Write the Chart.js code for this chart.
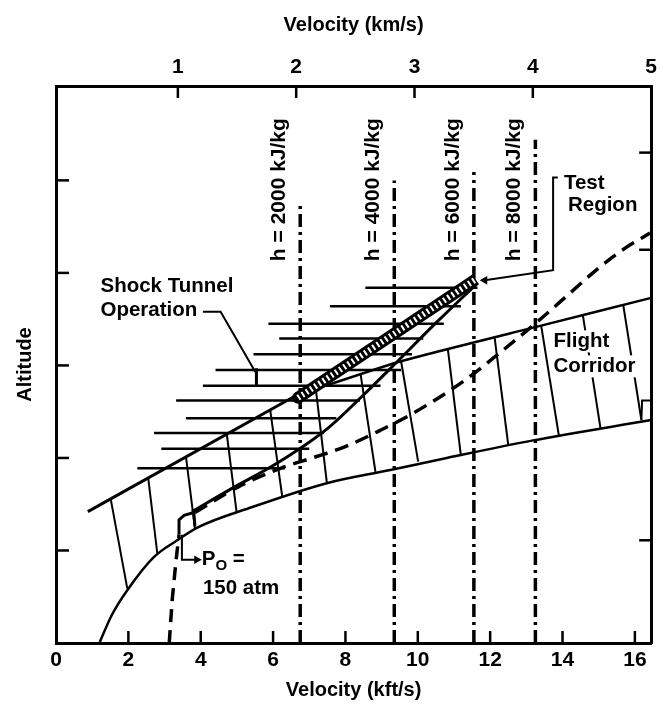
<!DOCTYPE html>
<html lang="en">
<head>
    <meta charset="UTF-8">
    <title>Flight corridor and shock tunnel operation</title>
    <script src="https://cdn.jsdelivr.net/npm/chart.js"></script>
    <style>
        html, body { margin: 0; padding: 0; background: #fff; }
        #wrap { width: 663px; height: 713px; }
    </style>
</head>
<body>
    <div id="wrap"><canvas id="chart" width="663" height="713"></canvas></div>

    <script>
        // axes (velocity in kft/s along the bottom, km/s along the top, altitude unlabeled)
        const kftTicks = [0, 2, 4, 6, 8, 10, 12, 14, 16];
        const kmTicks = [1, 2, 3, 4, 5];
        const altTicks = [1, 2, 3, 4, 5];
        const altTicksRight = [1.11, 4.25, 5.30];

        // flight corridor, lower and upper boundaries
        const corridorLowX = [1.21, 1.54, 1.97, 2.71, 3.35, 3.92, 5.43, 7.51, 9.24, 10.80, 13.19, 16.45];
        const corridorLowY = [0.01, 0.30, 0.57, 0.93, 1.11, 1.25, 1.47, 1.73, 1.87, 2.00, 2.19, 2.41];
        const corridorTopX = [6.61, 9.49, 13.41, 16.45];
        const corridorTopY = [2.67, 3.04, 3.43, 3.73];

        // corridor hatch strokes (top end, bottom end)
        const corrHatchTopX = [1.51, 2.55, 3.59, 4.72, 5.92, 7.18, 8.42, 9.54, 10.83, 12.12, 13.41, 14.56, 15.68];
        const corrHatchTopY = [1.56, 1.78, 2.02, 2.26, 2.52, 2.75, 2.90, 3.04, 3.18, 3.31, 3.43, 3.55, 3.65];
        const corrHatchBotX = [1.97, 2.80, 3.84, 4.99, 6.25, 7.49, 8.83, 10.01, 11.19, 12.50, 13.90, 15.05, 16.18];
        const corrHatchBotY = [0.59, 0.97, 1.24, 1.42, 1.59, 1.72, 1.85, 1.96, 2.03, 2.14, 2.24, 2.32, 2.41];

        // shock tunnel operation: left edge, right edge and horizontal hatching
        const tunnelLeftX = [0.88, 6.61, 11.57];
        const tunnelLeftY = [1.42, 2.67, 3.89];
        const tunnelRightX = [3.76, 4.77, 6.14, 7.51, 8.47, 9.43, 10.53, 11.65];
        const tunnelRightY = [1.42, 1.65, 1.95, 2.32, 2.67, 3.04, 3.47, 3.89];
        const tunnelHatchY = [3.84, 3.64, 3.45, 3.29, 3.12, 2.95, 2.78, 2.62, 2.43, 2.27, 2.10, 1.89];
        const tunnelHatchLeft = [8.55, 7.57, 5.87, 6.17, 5.46, 4.41, 4.06, 3.32, 3.59, 2.71, 2.91, 2.25];
        const tunnelHatchRight = [11.65, 11.19, 10.72, 10.15, 9.84, 9.54, 8.97, 8.40, 7.75, 7.40, 7.00, 6.33];

        // P0 = 150 atm dashed curve
        const p0LowX = [3.13, 3.21, 3.32, 3.40];
        const p0LowY = [0.00, 0.46, 0.90, 1.17];
        const p0BoxX = [3.40, 3.40, 3.54, 3.81, 3.84];
        const p0BoxY = [1.17, 1.33, 1.38, 1.41, 1.26];
        const p0HighX = [3.84, 5.05, 6.22, 7.16, 7.98, 8.97, 9.90, 11.30, 12.31, 13.30, 14.23, 15.05, 15.74, 16.42];
        const p0HighY = [1.41, 1.69, 1.89, 2.01, 2.12, 2.30, 2.49, 2.84, 3.15, 3.47, 3.79, 4.07, 4.27, 4.43];

        // test region bar
        const testBarX = [6.69, 11.60];
        const testBarY = [2.65, 3.93];

        // constant enthalpy lines
        const enthalpyX = [6.75, 9.35, 11.55, 13.25];
        const enthalpyTop = [4.74, 5.00, 5.09, 5.44];
        const enthalpyLabels = ['h = 2000 kJ/kg', 'h = 4000 kJ/kg', 'h = 6000 kJ/kg', 'h = 8000 kJ/kg'];

        // leader lines
        const testLeaderX = [13.87, 13.74, 13.74, 11.85];
        const testLeaderY = [5.03, 5.03, 4.03, 3.92];
        const shockLeaderX = [4.06, 4.55, 5.51];
        const shockLeaderY = [3.58, 3.58, 2.93];
        const shockTickX = [5.54, 5.54];
        const shockTickY = [2.97, 2.78];
        const p0LeaderX = [3.48, 3.48, 3.89];
        const p0LeaderY = [1.17, 0.90, 0.90];
        const edgeBoxX = [16.45, 16.20, 16.18];
        const edgeBoxY = [2.62, 2.62, 2.41];

        const FONT = 'Liberation Sans, Arial, sans-serif';
        Chart.defaults.font.family = FONT;
        Chart.defaults.font.size = 20;
        Chart.defaults.font.weight = 'bold';
        Chart.defaults.color = '#000';

        const pts = (xs, ys) => xs.map((x, i) => ({ x: x, y: ys[i] }));

        function line(data, opts) {
            return Object.assign({
                data: data,
                showLine: true,
                borderColor: '#000',
                backgroundColor: '#000',
                borderWidth: 2.5,
                pointRadius: 0,
                fill: false,
                tension: 0,
                order: 5
            }, opts || {});
        }

        const datasets = [];

        // corridor
        datasets.push(line(pts(corridorLowX, corridorLowY), { cubicInterpolationMode: 'monotone' }));
        datasets.push(line(pts(corridorTopX, corridorTopY), { tension: 0.2 }));
        corrHatchTopX.forEach((x, i) => {
            datasets.push(line(pts([x, corrHatchBotX[i]], [corrHatchTopY[i], corrHatchBotY[i]]), { borderWidth: 2 }));
        });
        datasets.push(line(pts(edgeBoxX, edgeBoxY), { borderWidth: 2 }));

        // shock tunnel
        datasets.push(line(pts(tunnelLeftX, tunnelLeftY), { borderWidth: 3 }));
        datasets.push(line(pts(tunnelRightX, tunnelRightY), { borderWidth: 3, cubicInterpolationMode: 'monotone' }));
        tunnelHatchY.forEach((y, i) => {
            datasets.push(line(pts([tunnelHatchLeft[i], tunnelHatchRight[i]], [y, y]), { borderWidth: 2.5 }));
        });

        // P0 = 150 atm
        datasets.push(line(pts(p0LowX, p0LowY), { borderWidth: 3.5, borderDash: [13, 8] }));
        datasets.push(line(pts(p0BoxX, p0BoxY), { borderWidth: 3 }));
        datasets.push(line(pts(p0HighX, p0HighY), { borderWidth: 3.5, borderDash: [14, 8], cubicInterpolationMode: 'monotone' }));

        // enthalpy lines
        enthalpyX.forEach((x, i) => {
            datasets.push(line(pts([x, x], [0, enthalpyTop[i]]), { borderWidth: 3.5, borderDash: [13, 5, 3, 5] }));
        });

        // test region bar (black body with white rungs)
        datasets.push(line(pts(testBarX, testBarY), { borderWidth: 12, order: 2,
            pointRadius: ctx => ctx.dataIndex === 0 ? 6 : 0, pointBorderWidth: 0 }));
        datasets.push(line(pts(testBarX, testBarY), { borderWidth: 6, borderColor: '#fff', borderDash: [2, 3], order: 1 }));

        // leaders
        const arrowEnd = rot => ({
            pointStyle: 'triangle',
            rotation: rot,
            pointBorderWidth: 0,
            pointRadius: ctx => ctx.dataIndex === ctx.dataset.data.length - 1 ? 5 : 0
        });
        datasets.push(line(pts(testLeaderX, testLeaderY), Object.assign({ borderWidth: 2 }, arrowEnd(-90))));
        datasets.push(line(pts(shockLeaderX, shockLeaderY), { borderWidth: 2 }));
        datasets.push(line(pts(shockTickX, shockTickY), { borderWidth: 3 }));
        datasets.push(line(pts(p0LeaderX, p0LeaderY), Object.assign({ borderWidth: 2 }, arrowEnd(90))));

        // text placed in data units
        const notes = [
            { text: 'Shock Tunnel', x: 1.23, y: 3.85 },
            { text: 'Operation', x: 1.23, y: 3.60 },
            { text: 'Test', x: 14.04, y: 4.97 },
            { text: 'Region', x: 14.15, y: 4.73 },
            { text: 'Flight', x: 13.75, y: 3.26, bg: true },
            { text: 'Corridor', x: 13.75, y: 2.99, bg: true },
            { text: '150 atm', x: 4.06, y: 0.59 }
        ];

        const inwardTicks = {
            id: 'inwardTicks',
            afterDraw(chart) {
                const ctx = chart.ctx;
                const a = chart.chartArea;
                const len = 12;
                ctx.save();
                ctx.strokeStyle = '#000';
                ctx.lineWidth = 2.5;
                const seg = (x1, y1, x2, y2) => { ctx.beginPath(); ctx.moveTo(x1, y1); ctx.lineTo(x2, y2); ctx.stroke(); };
                const sx = chart.scales.x, sx2 = chart.scales.x2, sy = chart.scales.y, sy2 = chart.scales.y2;
                sx.ticks.forEach(t => {
                    const p = sx.getPixelForValue(t.value);
                    if (p > a.left + 3 && p < a.right - 3) seg(p, a.bottom, p, a.bottom - len);
                });
                sx2.ticks.forEach(t => {
                    const p = sx2.getPixelForValue(t.value);
                    if (p > a.left + 3 && p < a.right - 3) seg(p, a.top, p, a.top + len);
                });
                sy.ticks.forEach(t => {
                    const p = sy.getPixelForValue(t.value);
                    seg(a.left, p, a.left + len + 1, p);
                });
                sy2.ticks.forEach(t => {
                    const p = sy2.getPixelForValue(t.value);
                    seg(a.right, p, a.right - len, p);
                });
                ctx.restore();
            }
        };

        const notesPlugin = {
            id: 'notes',
            afterDatasetsDraw(chart) {
                const ctx = chart.ctx;
                const sx = chart.scales.x, sy = chart.scales.y;
                const noteFont = 'bold 20.5px ' + FONT;
                ctx.save();
                ctx.fillStyle = '#000';
                ctx.font = noteFont;
                ctx.textBaseline = 'middle';
                ctx.textAlign = 'left';
                notes.forEach(n => {
                    const px = sx.getPixelForValue(n.x);
                    const py = sy.getPixelForValue(n.y);
                    if (n.bg) {
                        const w = ctx.measureText(n.text).width;
                        ctx.fillStyle = '#fff';
                        ctx.fillRect(px - 3, py - 11, w + 6, 22);
                        ctx.fillStyle = '#000';
                    }
                    ctx.fillText(n.text, px, py);
                });

                // P with subscript O
                const ppx = sx.getPixelForValue(4.03);
                const ppy = sy.getPixelForValue(0.90);
                ctx.fillText('P', ppx, ppy);
                const pw = ctx.measureText('P').width;
                ctx.font = 'bold 15px ' + FONT;
                ctx.fillText('O', ppx + pw, ppy + 6);
                const ow = ctx.measureText('O').width;
                ctx.font = noteFont;
                ctx.fillText(' =', ppx + pw + ow, ppy);

                // enthalpy labels, rotated, to the left of each line
                ctx.font = 'bold 21px ' + FONT;
                ctx.textAlign = 'center';
                enthalpyX.forEach((x, i) => {
                    const px = sx.getPixelForValue(x) - 21;
                    const py = sy.getPixelForValue(4.9);
                    ctx.save();
                    ctx.translate(px, py);
                    ctx.rotate(-Math.PI / 2);
                    ctx.fillText(enthalpyLabels[i], 0, 0);
                    ctx.restore();
                });
                ctx.restore();
            }
        };

        const axisBorder = { display: true, color: '#000', width: 3 };
        const noGrid = { display: false, drawTicks: false };

        new Chart(document.getElementById('chart').getContext('2d'), {
            type: 'scatter',
            data: { datasets: datasets },
            options: {
                responsive: false,
                animation: false,
                events: [],
                layout: { padding: 0 },
                plugins: { legend: { display: false }, tooltip: { enabled: false } },
                scales: {
                    x: {
                        type: 'linear', position: 'bottom', min: 0, max: 16.45,
                        afterBuildTicks: s => { s.ticks = kftTicks.map(v => ({ value: v })); },
                        afterFit: s => { s.height = 70; },
                        ticks: { padding: 5, font: { size: 21, weight: 'bold' }, maxRotation: 0, autoSkip: false },
                        grid: noGrid, border: axisBorder,
                        title: { display: true, text: 'Velocity (kft/s)', font: { size: 20, weight: 'bold' }, padding: { top: 0, bottom: 11 } }
                    },
                    x2: {
                        type: 'linear', position: 'top', min: -0.03, max: 5,
                        afterBuildTicks: s => { s.ticks = kmTicks.map(v => ({ value: v })); },
                        afterFit: s => { s.height = 86; },
                        ticks: { padding: 6, font: { size: 21, weight: 'bold' }, maxRotation: 0, autoSkip: false },
                        grid: noGrid, border: axisBorder,
                        title: { display: true, text: 'Velocity (km/s)', font: { size: 20, weight: 'bold' }, padding: { top: 13, bottom: 0 } }
                    },
                    y: {
                        type: 'linear', position: 'left', min: 0, max: 6.02,
                        afterBuildTicks: s => { s.ticks = altTicks.map(v => ({ value: v })); },
                        afterFit: s => { s.width = 56; },
                        ticks: { display: false },
                        grid: noGrid, border: axisBorder,
                        title: { display: true, text: 'Altitude', font: { size: 20, weight: 'bold' }, padding: { top: 13, bottom: 0 } }
                    },
                    y2: {
                        type: 'linear', position: 'right', min: 0, max: 6.02,
                        afterBuildTicks: s => { s.ticks = altTicksRight.map(v => ({ value: v })); },
                        afterFit: s => { s.width = 7; },
                        ticks: { display: false },
                        grid: noGrid, border: axisBorder
                    }
                }
            },
            plugins: [inwardTicks, notesPlugin]
        });
    </script>
</body>
</html>
